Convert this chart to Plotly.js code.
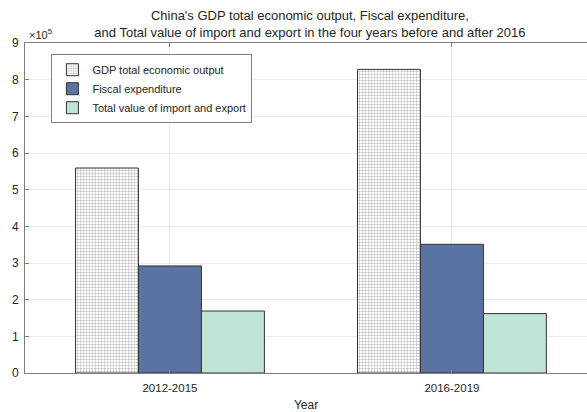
<!DOCTYPE html>
<html><head><meta charset="utf-8">
<script src="https://cdn.plot.ly/plotly-3.0.1.min.js"></script>
<style>html,body{margin:0;padding:0;background:#fff}#chart{width:587px;height:412px}</style>
</head><body><div id="chart"></div>
<script>
const categories = ["2012-2015", "2016-2019"];
const seriesNames = ["GDP total economic output", "Fiscal expenditure", "Total value of import and export"];
const gdp = [559000, 828000];
const fiscal = [292000, 351000];
const trade = [169000, 162000];
const yTicks = [0, 100000, 200000, 300000, 400000, 500000, 600000, 700000, 800000, 900000];
const yTickText = ["0", "1", "2", "3", "4", "5", "6", "7", "8", "9"];

const font = {family: "Liberation Sans, Arial, sans-serif", color: "#262626"};
const traces = [
  {type: "bar", name: seriesNames[0], x: categories, y: gdp,
   marker: {color: "#ffffff", line: {color: "#333333", width: 1},
            pattern: {shape: "+", size: 3, solidity: 0.3, fgcolor: "#5a5a5a", bgcolor: "#ffffff", fillmode: "overlay"}}},
  {type: "bar", name: seriesNames[1], x: categories, y: fiscal,
   marker: {color: "#5b73a2", line: {color: "#333333", width: 1}}},
  {type: "bar", name: seriesNames[2], x: categories, y: trade,
   marker: {color: "#bfe4d3", line: {color: "#333333", width: 1}}}
];
const layout = {
  width: 587, height: 412,
  margin: {l: 25, r: 0, t: 43, b: 39, pad: 0},
  paper_bgcolor: "#ffffff", plot_bgcolor: "#ffffff",
  font: Object.assign({size: 11}, font),
  title: {text: "China's GDP total economic output, Fiscal expenditure,<br>and Total value of import and export in the four years before and after 2016",
          font: Object.assign({size: 13}, font), x: 0.528, xanchor: "center",
          yref: "container", y: 0.952, yanchor: "top"},
  barmode: "group", bargap: 0.33, bargroupgap: 0,
  xaxis: {type: "category", range: [-0.514, 1.479], showgrid: true, gridcolor: "#ebebeb",
          showline: true, linecolor: "#808080", mirror: "ticks", ticks: "inside", ticklen: 4, tickcolor: "#808080",
          tickfont: Object.assign({size: 11.5}, font), ticklabelstandoff: 4,
          title: {text: "Year", font: Object.assign({size: 12}, font), standoff: 8}},
  yaxis: {range: [0, 900000], tickvals: yTicks, ticktext: yTickText, showgrid: true, gridcolor: "#ebebeb",
          showline: true, linecolor: "#808080", mirror: false, ticks: "inside", ticklen: 4, tickcolor: "#808080",
          tickfont: Object.assign({size: 12}, font), zeroline: false, ticklabelstandoff: 3},
  legend: {x: 0.047, y: 0.966, xanchor: "left", yanchor: "top", bgcolor: "#ffffff", bordercolor: "#808080", borderwidth: 1,
           font: Object.assign({size: 11}, font), tracegroupgap: 0, itemwidth: 30},
  annotations: [{xref: "paper", yref: "paper", x: 0.003, y: 1.0, xanchor: "left", yanchor: "bottom", showarrow: false,
                 text: "×10<sup>5</sup>", font: Object.assign({size: 11}, font)}]
};
Plotly.newPlot("chart", traces, layout, {displayModeBar: false});
</script></body></html>
